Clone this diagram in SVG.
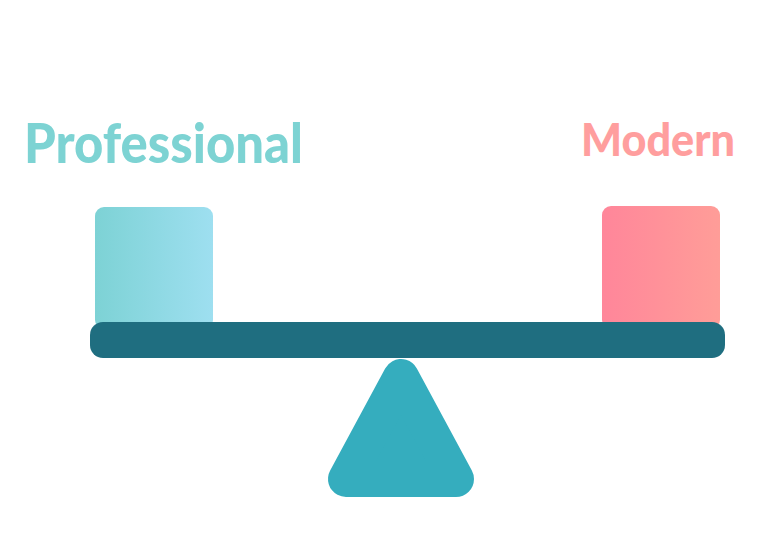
<svg xmlns="http://www.w3.org/2000/svg" width="777" height="549" viewBox="0 0 777 549">
  <defs>
    <linearGradient id="gLeft" x1="0" y1="0" x2="1" y2="0">
      <stop offset="0" stop-color="#7dd2d5"/>
      <stop offset="1" stop-color="#9edff0"/>
    </linearGradient>
    <linearGradient id="gRight" x1="0" y1="0" x2="1" y2="0">
      <stop offset="0" stop-color="#ff869a"/>
      <stop offset="1" stop-color="#ff9d98"/>
    </linearGradient>
  </defs>
  <style>
    .label { font-family: "Lato", "Liberation Sans", sans-serif; font-weight: 900; }
  </style>
  <rect width="777" height="549" fill="#ffffff"/>
  <g id="label-professional">
    <text class="label" x="24" y="163" font-size="55" fill="#7dd3d3" textLength="279" lengthAdjust="spacingAndGlyphs">Professional</text>
  </g>
  <g id="label-modern">
    <text class="label" x="581" y="156" font-size="45" fill="#ff9e9e" textLength="154" lengthAdjust="spacingAndGlyphs">Modern</text>
  </g>
  <g id="box-left">
    <rect x="95" y="207" width="118" height="122" rx="9" fill="url(#gLeft)"/>
  </g>
  <g id="box-right">
    <rect x="602" y="206" width="118" height="123" rx="9" fill="url(#gRight)"/>
  </g>
  <g id="fulcrum">
    <polygon points="401,377 346,479 456,479" fill="#35adbe" stroke="#35adbe" stroke-width="36" stroke-linejoin="round"/>
  </g>
  <g id="beam">
    <rect x="90" y="322" width="635" height="36" rx="13" fill="#1f6e80"/>
  </g>
</svg>
